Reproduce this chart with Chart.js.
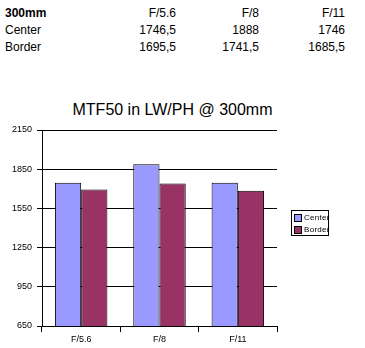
<!DOCTYPE html>
<html>
<head>
<meta charset="utf-8">
<script src="https://cdn.jsdelivr.net/npm/chart.js@4"></script>
<style>
  body { margin: 0; background: #fff; font-family: "Liberation Sans", Arial, sans-serif; }
  #wrap { position: relative; width: 365px; height: 348px; overflow: hidden; }
  #chart { position: absolute; left: 0; top: 0; }
  .cell { position: absolute; font-size: 12px; line-height: 14px; color: #000; white-space: nowrap; }
  .r { text-align: right; width: 80px; }
  #title { position: absolute; left: 0; width: 345px; top: 101px; text-align: center; font-size: 16px; }
  #legend { position: absolute; left: 291px; top: 210px; width: 36px; height: 24px; border: 1px solid #000; font-size: 8px; }
  .lg { position: absolute; left: 2px; height: 9px; line-height: 9px; white-space: nowrap; letter-spacing: 0.3px; }
  .sw { display: inline-block; width: 6px; height: 6px; border: 1px solid #000; vertical-align: top; margin-top: 1px; margin-right: 2px; }
</style>
</head>
<body>
<div id="wrap">
  <div id="table"></div>
  <div id="title">MTF50 in LW/PH @ 300mm</div>
  <canvas id="chart" width="365" height="348"></canvas>
  <div id="legend"></div>
</div>
<script>
// Dados
const categories = ['F/5.6', 'F/8', 'F/11'];
const centerValues = [1746.5, 1888, 1746];
const borderValues = [1695.5, 1741.5, 1685.5];
const seriesNames = ['Center', 'Border'];
const seriesColors = ['#9999FF', '#993366'];
const yTicks = [650, 950, 1250, 1550, 1850, 2150];

const fmt = (v) => String(v).replace('.', ',');

// Tabela
const table = document.getElementById('table');
const colRight = [176, 259, 345];
const rowTop = [6, 23, 40];
const addCell = (text, x, y, right, bold) => {
    const d = document.createElement('div');
    d.className = 'cell' + (right ? ' r' : '');
    d.textContent = text;
    d.style.top = y + 'px';
    d.style.left = (right ? x - 80 : x) + 'px';
    if (bold) d.style.fontWeight = 'bold';
    table.appendChild(d);
};
addCell('300mm', 5, rowTop[0], false, true);
categories.forEach((c, i) => addCell(c, colRight[i], rowTop[0], true));
[centerValues, borderValues].forEach((vals, r) => {
    addCell(seriesNames[r], 5, rowTop[r + 1]);
    vals.forEach((v, i) => addCell(fmt(v), colRight[i], rowTop[r + 1], true));
});

// Legenda
const legend = document.getElementById('legend');
seriesNames.forEach((name, i) => {
    const d = document.createElement('div');
    d.className = 'lg';
    d.style.top = (2 + i * 12) + 'px';
    d.innerHTML = `<span class="sw" style="background:${seriesColors[i]}"></span>${name}`;
    legend.appendChild(d);
});

// Gráfico
new Chart(document.getElementById('chart').getContext('2d'), {
    type: 'bar',
    data: {
        labels: categories,
        datasets: [
            { label: seriesNames[0], data: centerValues, backgroundColor: seriesColors[0], borderColor: '#000', borderWidth: 1 },
            { label: seriesNames[1], data: borderValues, backgroundColor: seriesColors[1], borderColor: '#000', borderWidth: 1 }
        ]
    },
    options: {
        responsive: false,
        animation: false,
        events: [],
        layout: { padding: { top: 130, right: 88, left: 0, bottom: 0 } },
        datasets: { bar: { categoryPercentage: 0.67, barPercentage: 1.0 } },
        plugins: { legend: { display: false }, tooltip: { enabled: false } },
        scales: {
            x: {
                afterFit: (s) => { s.height = 22; },
                grid: { offset: true, drawOnChartArea: false, color: '#000', tickLength: 6 },
                border: { color: '#000' },
                ticks: { color: '#000', font: { family: 'Liberation Sans', size: 9 }, padding: 2 }
            },
            y: {
                min: 650,
                max: 2150,
                afterFit: (s) => { s.width = 42; },
                afterBuildTicks: (s) => { s.ticks = yTicks.map(v => ({ value: v })); },
                grid: { color: '#000', tickLength: 5 },
                border: { color: '#000' },
                ticks: { color: '#000', font: { family: 'Liberation Sans', size: 9 }, padding: 5, callback: (v) => String(v) }
            }
        }
    }
});
</script>
</body>
</html>
